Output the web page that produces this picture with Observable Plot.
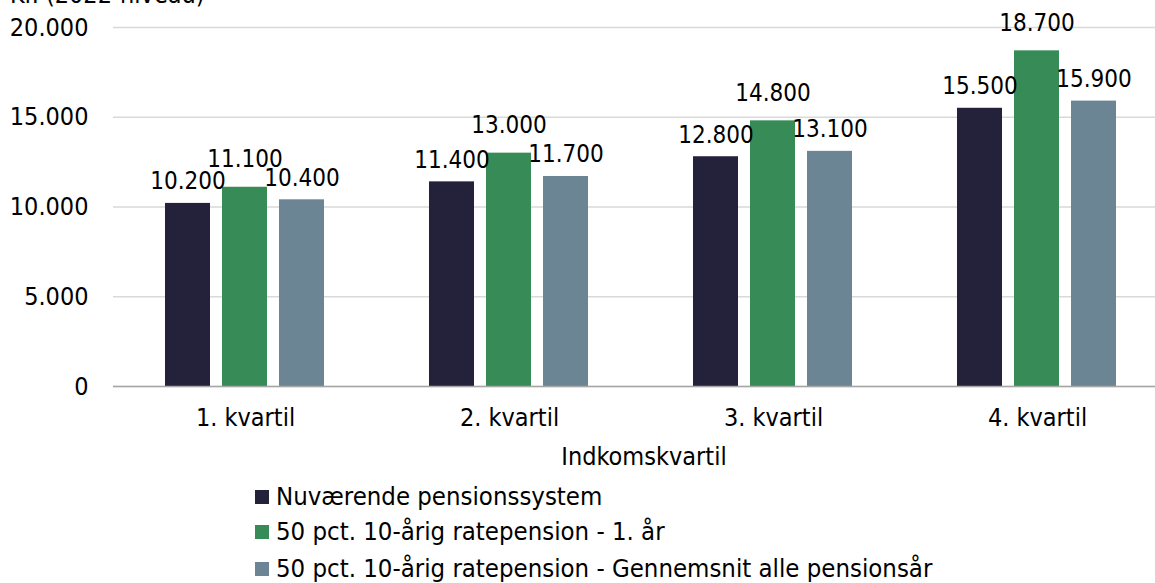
<!DOCTYPE html>
<html><head><meta charset="utf-8">
<script src="https://cdn.jsdelivr.net/npm/d3@7"></script>
<script src="https://cdn.jsdelivr.net/npm/@observablehq/plot@0.6"></script>
<style>
html,body{margin:0;padding:0;background:#fff;overflow:hidden;}
#wrap{position:relative;width:1155px;height:583px;font-family:"DejaVu Sans Condensed","DejaVu Sans",sans-serif;font-stretch:condensed;color:#000;}
#chart{position:absolute;left:0;top:0;}
.abs{position:absolute;font-size:25px;line-height:25px;white-space:nowrap;}
.row{position:absolute;left:255px;font-size:25.5px;line-height:26px;white-space:nowrap;}
.sw{position:absolute;left:0;top:7px;width:14px;height:14px;}
.lt{position:absolute;left:21px;top:0;}
</style></head>
<body><div id="wrap"><div id="chart"></div></div>
<script>
const categories = ["1. kvartil", "2. kvartil", "3. kvartil", "4. kvartil"];
const seriesNames = [
  "Nuværende pensionssystem",
  "50 pct. 10-årig ratepension - 1. år",
  "50 pct. 10-årig ratepension - Gennemsnit alle pensionsår"
];
const nuvaerende = [10200, 11400, 12800, 15500];
const rate1aar = [11100, 13000, 14800, 18700];
const rateGennemsnit = [10400, 11700, 13100, 15900];
const yTicks = [0, 5000, 10000, 15000, 20000];
const colors = ["#23223a", "#368b57", "#6c8595"];
const yLabel = "Kr. (2022-niveau)";
const xLabel = "Indkomskvartil";

const seriesValues = [nuvaerende, rate1aar, rateGennemsnit];
const data = [];
categories.forEach((c, i) => seriesValues.forEach((vals, s) => data.push({group: c, series: seriesNames[s], value: vals[i]})));

const dk = d3.formatLocale({decimal: ",", thousands: ".", grouping: [3], currency: ["", " kr"]});
const fmt = dk.format(",");
const font = '"DejaVu Sans Condensed","DejaVu Sans",sans-serif';
const fs = 25;
const fsLabel = 24;

const plot = Plot.plot({
  width: 1155, height: 440,
  marginLeft: 113, marginRight: 0, marginTop: 27, marginBottom: 54,
  style: {fontFamily: font, fontSize: fs + "px", fontStretch: "condensed", color: "#000", background: "transparent", overflow: "visible"},
  fx: {domain: categories, range: [113, 1169], padding: 0, label: null},
  x: {domain: seriesNames, paddingInner: 0.207, paddingOuter: 0.88, axis: null},
  y: {domain: [0, 20000], label: null},
  color: {domain: seriesNames, range: colors},
  marks: [
    Plot.gridY(yTicks, {stroke: "#d9d9d9", strokeOpacity: 1, strokeWidth: 1.5}),
    Plot.barY(data, {fx: "group", x: "series", y: "value", fill: "series"}),
    Plot.ruleY([0], {stroke: "#a6a6a6", strokeWidth: 1.5}),
    Plot.text(data.filter(d => d.series !== seriesNames[1]), {fx: "group", x: "series", y: "value", text: d => fmt(d.value), lineAnchor: "bottom", dy: -14, fontSize: fsLabel, fill: "#000"}),
    Plot.text(data.filter(d => d.series === seriesNames[1]), {fx: "group", x: "series", y: "value", text: d => fmt(d.value), lineAnchor: "bottom", dy: -20, fontSize: fsLabel, fill: "#000"}),
    Plot.axisY({ticks: yTicks, tickFormat: fmt, tickSize: 0, tickPadding: 25, label: null, fontSize: fs}),
    Plot.axisFx({anchor: "bottom", tickSize: 0, tickPadding: 22, label: null, fontSize: fs})
  ]
});
document.getElementById("chart").appendChild(plot);

const wrap = document.getElementById("wrap");
const yl = document.createElement("div");
yl.className = "abs"; yl.style.left = "10px"; yl.style.top = "-18px"; yl.textContent = yLabel;
wrap.appendChild(yl);
const xl = document.createElement("div");
xl.className = "abs"; xl.style.left = "544px"; xl.style.width = "200px"; xl.style.textAlign = "center"; xl.style.top = "444px"; xl.textContent = xLabel;
wrap.appendChild(xl);
const rowTops = [483, 518, 555];
seriesNames.forEach((s, i) => {
  const r = document.createElement("div");
  r.className = "row"; r.style.top = rowTops[i] + "px";
  const sw = document.createElement("span"); sw.className = "sw"; sw.style.background = colors[i];
  const t = document.createElement("span"); t.className = "lt"; t.textContent = s;
  r.appendChild(sw); r.appendChild(t);
  wrap.appendChild(r);
});
</script></body></html>
